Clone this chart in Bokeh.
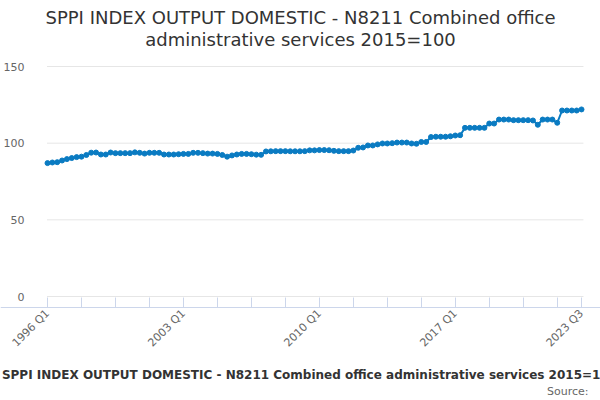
from bokeh.plotting import figure
from bokeh.models import FixedTicker, Label, Range1d, ColumnDataSource, LinearAxis
from bokeh.embed import file_html
from bokeh.resources import INLINE
import math

title_lines = ["SPPI INDEX OUTPUT DOMESTIC - N8211 Combined office",
               "administrative services 2015=100"]
axis_title = "SPPI INDEX OUTPUT DOMESTIC - N8211 Combined office administrative services 2015=100"
source_text = "Source:"

quarters = [f"{y} Q{q}" for y in range(1996, 2024) for q in range(1, 5)][:111]

values = [
    87.0, 87.4, 87.6, 88.7, 89.6, 90.3, 90.9, 91.2, 92.3, 93.8,
    93.9, 92.6, 92.6, 93.9, 93.5, 93.5, 93.5, 93.5, 94.0, 93.7,
    93.2, 93.7, 93.7, 93.7, 92.6, 92.6, 92.6, 92.8, 93.0, 93.0,
    93.7, 93.7, 93.5, 93.2, 93.2, 93.0, 92.3, 91.2, 92.0, 92.6,
    93.0, 93.0, 92.8, 92.5, 92.4, 94.6, 94.7, 94.8, 94.8, 94.8,
    94.7, 94.7, 94.7, 94.8, 95.3, 95.3, 95.5, 95.5, 95.4, 95.0,
    94.8, 94.8, 94.8, 95.2, 97.0, 97.2, 98.5, 98.5, 99.2, 99.8,
    99.8, 100.0, 100.4, 100.4, 100.4, 99.8, 99.6, 100.8, 100.8, 104.0,
    104.2, 104.2, 104.2, 104.5, 105.0, 105.2, 110.0, 110.0, 110.0, 110.0,
    110.0, 112.8, 112.8, 115.4, 115.4, 115.4, 115.0, 115.0, 115.0, 115.0,
    114.8, 112.0, 115.4, 115.4, 115.4, 113.3, 121.3, 121.3, 121.3, 121.3,
    122.0,
]

y_ticks = [0, 50, 100, 150]
x_tick_idx = list(range(0, 110, 7)) + [110]
x_label_idx = [0, 28, 56, 84, 110]

FONT = "DejaVu Sans"
BLUE = "#0a7bc2"

W, H = 600, 399
# pixel geometry of the plotting area (canvas pixels)
px_x0, px_x1 = 47.0, 581.0     # index 0 and last index
px_y0, px_y150 = 296.0, 66.0   # value 0 and value 150
n_last = len(values) - 1
sx = (px_x1 - px_x0) / n_last
sy = (px_y0 - px_y150) / 150.0
x_start = -px_x0 / sx
x_end = n_last + (W - px_x1) / sx
y_end = 150 + px_y150 / sy
y_start = -(H - px_y0) / sy

xs = list(range(len(values)))
src = ColumnDataSource(dict(x=xs, y=values, q=quarters))

p = figure(width=W, height=H, output_backend="svg", toolbar_location=None,
           x_range=Range1d(x_start, x_end), y_range=Range1d(y_start, y_end),
           min_border=0, x_axis_location=None, y_axis_location=None)
p.outline_line_color = None
p.background_fill_color = "white"
p.border_fill_color = "white"
p.xgrid.visible = False
p.ygrid.visible = False

# horizontal grid lines across the plotting area
p.segment(x0=[-0.1] * len(y_ticks), x1=[n_last + 0.4] * len(y_ticks), y0=y_ticks, y1=y_ticks,
          line_color="#e6e6e6", line_width=1)

p.line("x", "y", source=src, line_color=BLUE, line_width=2)
p.scatter("x", "y", source=src, size=5, fill_color=BLUE, line_color=BLUE)

# y axis
yax = LinearAxis(fixed_location=0, ticker=FixedTicker(ticks=y_ticks))
yax.axis_line_color = None
yax.major_tick_line_color = None
yax.minor_tick_line_color = None
yax.major_label_standoff = 17
yax.major_label_text_font = FONT
yax.major_label_text_font_size = "11px"
yax.major_label_text_color = "#666666"
p.add_layout(yax, "left")

# x axis (offset below the zero line)
xax = LinearAxis(fixed_location=-(307 - px_y0) / sy, ticker=FixedTicker(ticks=x_tick_idx))
xax.major_label_overrides = {i: (quarters[i] if i in x_label_idx else "") for i in x_tick_idx}
xax.axis_line_color = "#ccd6eb"
xax.major_tick_line_color = "#ccd6eb"
xax.major_tick_in = 10
xax.major_tick_out = 0
xax.minor_tick_line_color = None
xax.major_label_orientation = math.pi / 4
xax.major_label_standoff = 4
xax.major_label_text_font = FONT
xax.major_label_text_font_size = "11px"
xax.major_label_text_color = "#666666"
p.add_layout(xax, "below")

def lab(text, x, y, size, color, align="center", baseline="middle", style="normal"):
    p.add_layout(Label(x=x, y=y, x_units="screen", y_units="screen", text=text,
                       text_font=FONT, text_font_size=size, text_color=color,
                       text_align=align, text_baseline=baseline, text_font_style=style))

lab(title_lines[0], 300, H - 17, "18px", "#333333")
lab(title_lines[1], 300, H - 39, "18px", "#333333")
lab(axis_title, 309, H - 374, "12px", "#333333", style="bold")
lab(source_text, 588, H - 391, "11px", "#666666", align="right")

open("out.html", "w").write(file_html(p, INLINE))
